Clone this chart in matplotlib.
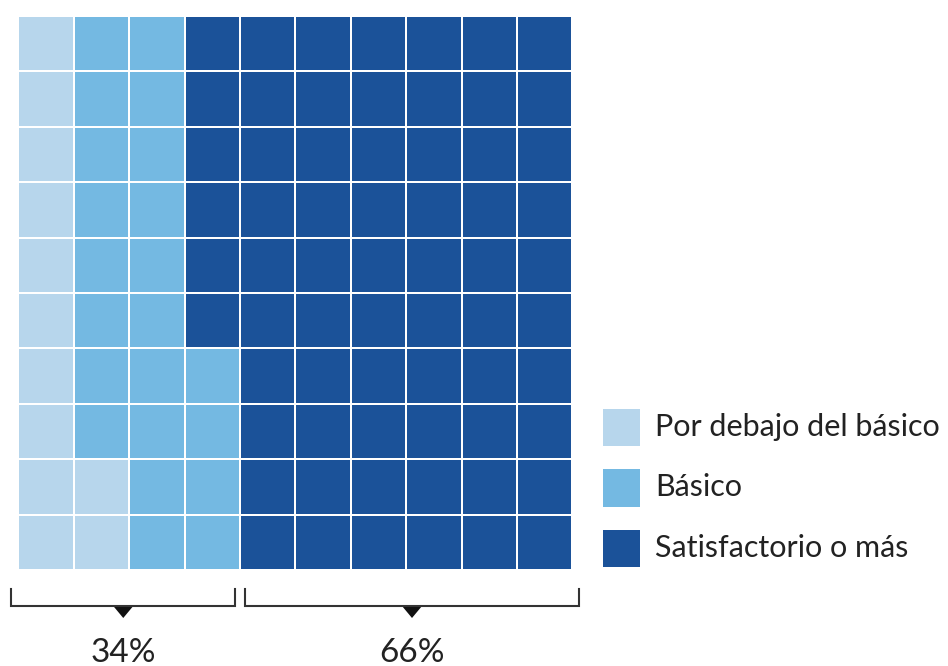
import matplotlib.pyplot as plt
from matplotlib.patches import Rectangle, Polygon

plt.rcParams['font.family'] = ['Lato', 'DejaVu Sans']

categories = ['Por debajo del básico', 'Básico', 'Satisfactorio o más']
counts = [12, 22, 66]
colors = ['#b7d6ec', '#74b9e2', '#1b5299']
group_labels = ['34%', '66%']

n_rows, n_cols = 10, 10
x0, y0, cell, gap = 18.5, 16.0, 55.4, 2.0

fig = plt.figure(figsize=(9.48, 6.66), dpi=100)
ax = fig.add_axes([0, 0, 1, 1])
ax.set_xlim(0, 948)
ax.set_ylim(666, 0)
ax.axis('off')

# fill column by column, bottom to top
cell_colors = []
for c, n in zip(colors, counts):
    cell_colors += [c] * n
for i, c in enumerate(cell_colors):
    col = i // n_rows
    row = n_rows - 1 - (i % n_rows)
    ax.add_patch(Rectangle((x0 + col * cell + gap / 2, y0 + row * cell + gap / 2),
                           cell - gap, cell - gap, facecolor=c, edgecolor='none'))

# legend
for k, (lab, c) in enumerate(zip(categories, colors)):
    yc = 427 + k * 60.5
    ax.add_patch(Rectangle((603, yc - 18.5), 37.5, 37.5, facecolor=c, edgecolor='none'))
    ax.text(655, yc, lab, fontsize=22, color='#222222', va='center', ha='left')

# brackets
brackets = [(11.5, 235), (245, 579)]
for (xa, xb), lab in zip(brackets, group_labels):
    ax.plot([xa, xa, xb, xb], [589, 606, 606, 589], color='#333333', lw=1.5,
            solid_joinstyle='miter')
    xm = (xa + xb) / 2
    ax.add_patch(Polygon([(xm - 10, 606), (xm + 10, 606), (xm, 618)],
                         closed=True, facecolor='#111111', edgecolor='none'))
    ax.text(xm, 653, lab, fontsize=24, color='#222222', ha='center', va='center')

fig.savefig('out.png', dpi=100)
